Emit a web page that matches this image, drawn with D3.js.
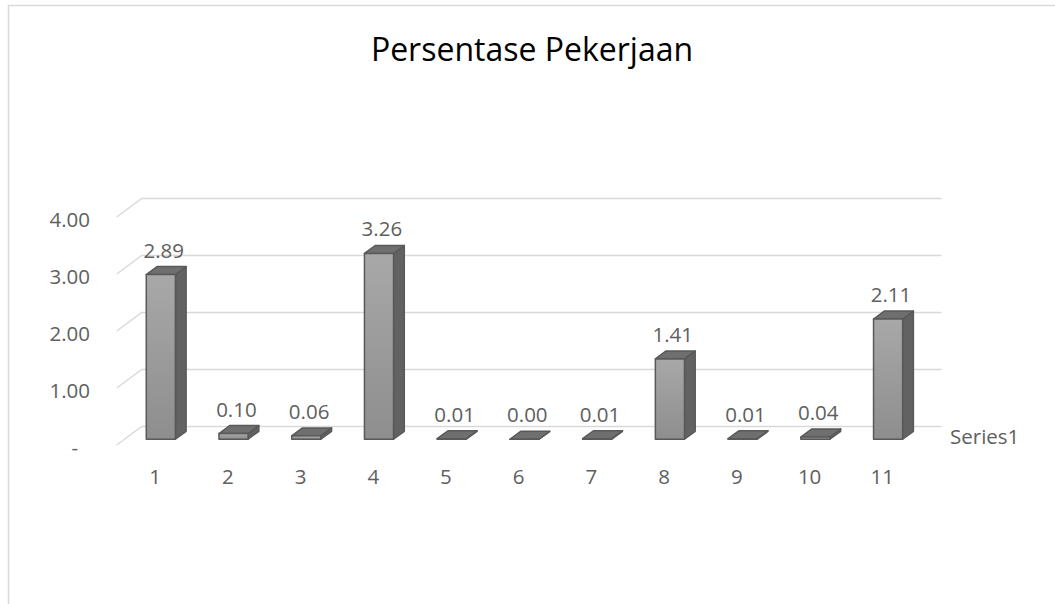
<!DOCTYPE html>
<html><head><meta charset="utf-8">
<script src="https://cdn.jsdelivr.net/npm/d3@7"></script>
<style>
html,body{margin:0;padding:0;background:#fff;}
svg{display:block;font-family:"Open Sans",sans-serif;}
</style></head>
<body>
<svg id="chart" width="1055" height="604"></svg>
<script>
const title = "Persentase Pekerjaan";
const categories = ["1","2","3","4","5","6","7","8","9","10","11"];
const values = [2.89, 0.10, 0.06, 3.26, 0.01, 0.00, 0.01, 1.41, 0.01, 0.04, 2.11];
const valueLabels = ["2.89","0.10","0.06","3.26","0.01","0.00","0.01","1.41","0.01","0.04","2.11"];
const yTicks = [0, 1, 2, 3, 4];
const yTickLabels = ["-", "1.00", "2.00", "3.00", "4.00"];
const seriesName = "Series1";

const svg = d3.select("#chart");
const W = 1055, H = 604;
const FS = 20.5;
const TXT = "#606060";

// frame border (only top/left visible)
svg.append("rect").attr("x", 8.5).attr("y", 5.5).attr("width", W + 20).attr("height", H + 20)
  .attr("fill", "#fff").attr("stroke", "#d9d9d9").attr("stroke-width", 1.5);

const defs = svg.append("defs");
const grad = defs.append("linearGradient").attr("id", "frontGrad").attr("x1", 0).attr("y1", 0).attr("x2", 0).attr("y2", 1);
grad.append("stop").attr("offset", "0%").attr("stop-color", "#a8a8a8");
grad.append("stop").attr("offset", "100%").attr("stop-color", "#8e8e8e");

// 3D geometry
const depth = {dx: 25, dy: -18.5};
const dFront = 0.31, dBack = 0.74;
const x = d3.scaleBand().domain(categories).range([116.7, 916.7]).paddingInner(0).paddingOuter(0);
const y = d3.scaleLinear().domain([0, 4]).range([445, 217]);
const slot = x.bandwidth();
const barW = slot * 0.4;
const proj = (px, py, d) => [px + d * depth.dx, py + d * depth.dy];

const x0 = x.range()[0], x1 = x.range()[1];

// gridlines: left wall diagonals + back wall horizontals
const grid = svg.append("g").attr("stroke", "#d9d9d9").attr("stroke-width", 1.5).attr("fill", "none");
yTicks.forEach(t => {
  const a = [x0, y(t)];
  const b = proj(x0, y(t), 1);
  const c = proj(x1, y(t), 1);
  grid.append("path").attr("d", d3.line()([a, b, c]));
});

// y axis labels via d3 axis
const yAxis = d3.axisLeft(y).tickValues(yTicks).tickSize(0).tickPadding(0)
  .tickFormat((d, i) => yTickLabels[i]);
const gy = svg.append("g").attr("transform", "translate(90,3)").call(yAxis);
gy.select(".domain").remove();
gy.selectAll("text").attr("font-family", "Open Sans").attr("font-size", FS).attr("fill", TXT)
  .attr("dx", d => d === 0 ? -12 : 0);

// bars
const bars = svg.append("g");
values.forEach((v, i) => {
  const cx = x(categories[i]) + slot / 2;
  const L = cx - barW / 2, R = cx + barW / 2;
  const yb = y(0), yt = y(v);
  const fBL = proj(L, yb, dFront), fBR = proj(R, yb, dFront), fTR = proj(R, yt, dFront), fTL = proj(L, yt, dFront);
  const bTL = proj(L, yt, dBack), bTR = proj(R, yt, dBack), bBR = proj(R, yb, dBack);
  const g = bars.append("g").attr("stroke", "#595959").attr("stroke-width", 1.5).attr("stroke-linejoin", "round");
  g.append("path").attr("d", d3.line()([fBR, fTR, bTR, bBR]) + "Z").attr("fill", "#626262");
  g.append("path").attr("d", d3.line()([fTL, fTR, bTR, bTL]) + "Z").attr("fill", "#6f6f6f");
  g.append("path").attr("d", d3.line()([fBL, fBR, fTR, fTL]) + "Z").attr("fill", "url(#frontGrad)");
  const lc = proj(cx, yt, (dFront + dBack) / 2);
  svg.append("text").attr("x", lc[0] - 2.5).attr("y", lc[1] - 13)
    .attr("text-anchor", "middle").attr("font-size", FS).attr("fill", TXT).text(valueLabels[i]);
});

// category axis
const xAxis = d3.axisBottom(x).tickSize(0).tickPadding(0);
const gx = svg.append("g").attr("transform", "translate(2,484)").call(xAxis);
gx.select(".domain").remove();
gx.selectAll("text").attr("font-family", "Open Sans").attr("font-size", FS).attr("fill", TXT).attr("dy", 0);

// series axis label
svg.append("text").attr("x", 950).attr("y", 444).attr("font-size", FS).attr("fill", TXT).text(seriesName);

// title
svg.append("text").attr("x", 532).attr("y", 61).attr("text-anchor", "middle")
  .attr("font-size", 32).attr("fill", "#000").text(title);
</script>
</body></html>
